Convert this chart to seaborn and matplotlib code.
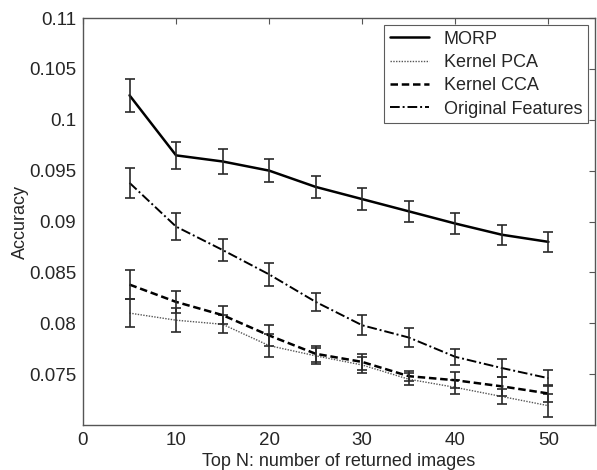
import matplotlib
matplotlib.use("Agg")
import matplotlib.pyplot as plt
import pandas as pd
import seaborn as sns

# Top N values
top_n = [5, 10, 15, 20, 25, 30, 35, 40, 45, 50]

# mean accuracy per method
morp = [0.1024, 0.0965, 0.0959, 0.0950, 0.0934, 0.0922, 0.0910, 0.0898, 0.0887, 0.0880]
kernel_pca = [0.0810, 0.0803, 0.0799, 0.0778, 0.0768, 0.0759, 0.0745, 0.0737, 0.0728, 0.0719]
kernel_cca = [0.0838, 0.0821, 0.0808, 0.0788, 0.0770, 0.0762, 0.0748, 0.0744, 0.0738, 0.0731]
original = [0.0938, 0.0895, 0.0872, 0.0848, 0.0821, 0.0798, 0.0786, 0.0767, 0.0756, 0.0746]

# error bar half-widths
morp_err = [0.0016, 0.0013, 0.00125, 0.00115, 0.0011, 0.00105, 0.001, 0.001, 0.001, 0.001]
kernel_pca_err = [0.0014, 0.0012, 0.0009, 0.0011, 0.0008, 0.0008, 0.0006, 0.0007, 0.0007, 0.0011]
kernel_cca_err = [0.0014, 0.0011, 0.0009, 0.0010, 0.0008, 0.0008, 0.0005, 0.0008, 0.0009, 0.0008]
original_err = [0.0015, 0.0013, 0.0011, 0.0011, 0.0009, 0.001, 0.0009, 0.0008, 0.0009, 0.0008]

series = {
    "MORP": (morp, morp_err),
    "Kernel PCA": (kernel_pca, kernel_pca_err),
    "Kernel CCA": (kernel_cca, kernel_cca_err),
    "Original Features": (original, original_err),
}

styles = {
    "MORP": dict(ls="-", lw=1.8, color="black"),
    "Kernel PCA": dict(ls=(0, (1, 1)), lw=1.0, color="#555555"),
    "Kernel CCA": dict(ls=(0, (3, 1.5)), lw=1.8, color="black"),
    "Original Features": dict(ls=(0, (5, 1.5, 1, 1.5)), lw=1.4, color="black"),
}

sns.set_style("white")
plt.rcParams["font.family"] = ["Liberation Sans", "DejaVu Sans"]

fig = plt.figure(figsize=(5.97, 4.70), dpi=100)
ax = fig.add_axes([0.139, 0.0957, 0.8576, 0.866])

for name, (vals, errs) in series.items():
    df = pd.DataFrame({"N": top_n, "acc": vals})
    st = styles[name]
    sns.lineplot(data=df, x="N", y="acc", ax=ax, label=name,
                 color=st["color"], linestyle=st["ls"], linewidth=st["lw"])
    ax.errorbar(top_n, vals, yerr=errs, fmt="none", ecolor="#2a2a2a",
                elinewidth=1.2, capsize=3.8, capthick=1.2)

ax.set_xlim(0, 55)
ax.set_ylim(0.07, 0.11)
ax.set_xticks([0, 10, 20, 30, 40, 50])
ax.set_yticks([0.075, 0.08, 0.085, 0.09, 0.095, 0.1, 0.105, 0.11])
ax.set_yticklabels(["0.075", "0.08", "0.085", "0.09", "0.095", "0.1", "0.105", "0.11"])
ax.tick_params(direction="in", length=4, top=True, right=True, labelsize=13.5,
               color="#555555", pad=5)
for s in ax.spines.values():
    s.set_color("#555555")
    s.set_linewidth(1.0)

ax.set_xlabel("Top N: number of returned images", fontsize=13, labelpad=3)
ax.set_ylabel("Accuracy", fontsize=13, labelpad=0)

leg = ax.legend(loc="upper right", fontsize=13, frameon=True, fancybox=False,
                edgecolor="#333333", handlelength=2.2, borderpad=0.3,
                labelspacing=0.35, handletextpad=0.8, borderaxespad=0.4)
leg.get_frame().set_linewidth(0.8)

fig.savefig("out.png", dpi=100)
